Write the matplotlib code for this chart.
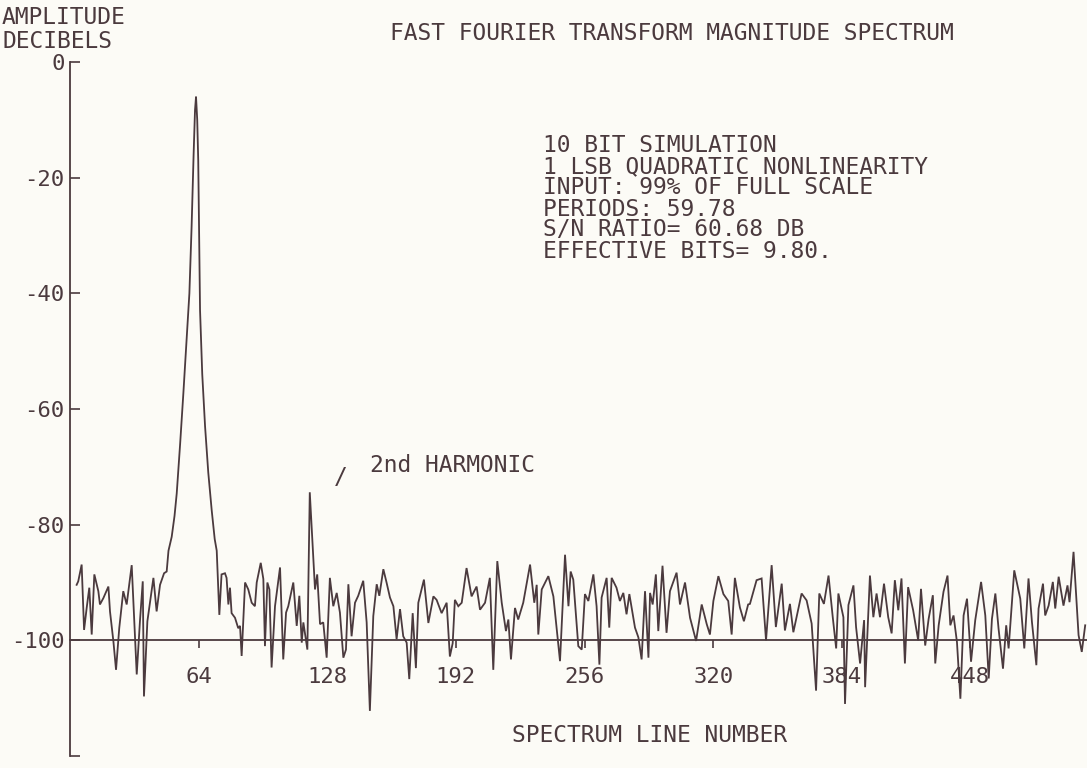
import matplotlib
matplotlib.use("Agg")
import matplotlib.pyplot as plt

# spectrum trace: (spectrum line, amplitude in dB)
spectrum_bin = [
    3.3, 4.1, 5.8, 7.0, 8.3, 9.6, 10.8, 12.1, 14.1, 14.9, 16.6, 19.1, 19.9, 21.6, 22.9,
    24.5, 26.5, 28.2, 30.7, 33.2, 34.8, 36.2, 36.8, 38.5, 41.5, 43.1, 44.8, 46.8, 48.1,
    49.0, 50.6, 52.0, 53.1, 54.8, 56.4, 58.0, 59.4, 60.5, 61.5, 62.2, 62.7, 63.3, 63.8,
    64.7, 65.8, 67.2, 68.8, 70.5, 72.0, 73.0, 74.3, 75.4, 77.1, 77.9, 78.8, 79.6, 80.4,
    82.1, 83.7, 84.6, 85.4, 87.1, 88.7, 90.4, 92.0, 92.9, 94.9, 96.2, 97.0, 98.2, 99.2,
    100.3, 102.0, 104.5, 106.1, 107.5, 108.6, 111.1, 112.8, 114.1, 115.3, 116.1, 118.1,
    119.3, 121.9, 123.0, 124.4, 126.0, 127.7, 129.3, 131.0, 132.7, 134.3, 136.0, 137.3,
    138.5, 140.1, 141.8, 143.4, 145.9, 147.6, 149.2, 150.9, 152.6, 153.9, 155.9, 157.5,
    159.2, 160.9, 162.5, 164.2, 165.8, 167.5, 168.8, 170.5, 172.1, 173.3, 176.1, 178.3,
    180.8, 182.4, 184.9, 187.4, 189.0, 190.4, 191.5, 193.2, 194.9, 197.3, 199.8, 202.3,
    204.0, 206.5, 208.9, 210.6, 212.6, 214.8, 216.9, 218.1, 219.4, 221.4, 223.0, 225.5,
    228.9, 231.0, 232.2, 233.0, 234.7, 238.0, 240.5, 243.8, 246.3, 248.0, 249.1, 250.4,
    252.9, 254.6, 256.2, 257.9, 260.4, 262.0, 263.4, 264.5, 267.0, 268.3, 269.5, 271.9,
    273.6, 275.3, 276.9, 278.3, 281.1, 282.8, 284.4, 286.1, 287.8, 288.6, 289.9, 291.5,
    292.7, 294.8, 296.8, 298.5, 301.8, 303.5, 306.0, 308.5, 311.5, 314.3, 316.8, 318.4,
    320.1, 322.6, 325.1, 327.5, 329.2, 330.8, 333.3, 335.3, 337.4, 338.3, 341.6, 344.1,
    346.3, 349.1, 351.2, 354.1, 355.7, 358.2, 359.9, 364.0, 366.5, 369.0, 371.2, 372.8,
    375.1, 377.4, 379.5, 381.2, 382.3, 384.8, 385.6, 387.3, 389.8, 391.1, 393.1, 395.1,
    395.6, 398.0, 399.7, 401.3, 403.0, 405.0, 407.1, 408.8, 410.4, 412.1, 413.7, 415.4,
    417.0, 419.5, 422.0, 423.4, 425.5, 427.2, 429.3, 430.5, 432.2, 434.6, 436.6, 438.0,
    439.6, 441.3, 443.0, 444.6, 446.3, 448.3, 450.4, 453.3, 455.4, 457.1, 458.7, 460.4,
    462.0, 464.2, 465.8, 467.0, 469.8, 472.8, 474.8, 476.9, 478.6, 480.8, 481.9, 484.1,
    485.2, 486.9, 489.0, 490.2, 491.9, 494.3, 496.3, 497.3, 499.3, 501.8, 503.4, 505.1,
]
spectrum_db = [
    -90.4, -89.8, -86.9, -98.2, -94.4, -90.9, -99.0, -88.6, -91.5, -93.8, -92.7, -90.7, -95.0, -100.2, -105.1,
    -97.9, -91.5, -93.8, -87.0, -105.9, -96.7, -89.8, -109.7, -96.7, -89.2, -95.0, -90.4, -88.4, -88.1,
    -84.5, -82.1, -78.5, -74.6, -66.0, -57.3, -48.0, -40.0, -28.5, -16.0, -8.3, -6.0, -10.0, -17.0,
    -42.9, -54.0, -63.0, -71.0, -77.5, -82.5, -84.5, -95.6, -88.6, -88.4, -89.2, -93.8, -90.9, -95.3,
    -96.1, -97.9, -97.5, -102.7, -90.0, -91.2, -93.5, -94.1, -90.0, -86.6, -89.4, -101.0, -90.0, -91.2,
    -104.7, -94.1, -87.4, -103.3, -95.2, -94.1, -90.0, -97.5, -92.3, -100.4, -96.9, -101.6,
    -74.4, -91.2, -88.6, -97.2, -96.9, -103.0, -89.2, -94.1, -91.8, -95.2, -103.0, -101.6,
    -90.3, -99.3, -93.5, -92.3, -89.7, -96.9, -112.2, -95.8, -90.3, -92.3, -87.7, -90.0,
    -92.6, -94.1, -99.8, -94.6, -99.3, -100.4, -106.7, -95.3, -104.8, -93.5, -89.5, -97.0,
    -92.4, -93.0, -95.3, -93.5, -102.8, -100.5, -93.0, -94.1, -93.5, -87.5, -92.4, -90.7,
    -94.7, -93.5, -89.2, -105.1, -86.3, -93.5, -98.4, -96.4, -103.3, -94.4, -96.4, -93.5,
    -86.9, -93.5, -90.4, -99.0, -91.2, -88.9, -92.4, -103.6, -85.2, -94.1, -88.1, -89.5,
    -101.0, -101.6, -92.0, -93.2, -88.6, -94.1, -104.2, -92.6, -89.2, -97.8, -89.2, -90.9,
    -93.2, -91.8, -95.5, -92.0, -97.8, -99.5, -103.3, -91.5, -103.0, -91.8, -93.8, -88.6,
    -98.4, -87.1, -98.7, -91.5, -88.3, -93.8, -90.0, -96.1, -100.1, -93.8, -97.2, -99.0,
    -93.2, -88.9, -92.0, -93.2, -99.0, -89.2, -94.3, -96.7, -93.8, -93.7, -89.6, -89.3,
    -100.0, -87.0, -97.7, -90.2, -98.3, -93.7, -98.6, -91.9, -93.1, -97.1, -108.7, -91.9,
    -93.7, -88.8, -96.0, -101.4, -91.9, -96.0, -111.0, -93.9, -90.5, -97.7, -104.0, -96.5,
    -108.1, -88.8, -96.0, -91.9, -96.0, -90.2, -96.0, -98.8, -89.6, -94.8, -89.3, -104.0,
    -90.8, -94.8, -100.0, -91.1, -100.9, -96.3, -92.2, -104.0, -97.4, -91.6, -88.8, -97.4,
    -95.7, -100.3, -110.1, -95.7, -92.8, -103.7, -96.5, -89.9, -95.7, -106.6, -96.3, -91.9,
    -98.0, -104.9, -97.4, -101.4, -87.9, -92.8, -101.4, -89.3, -96.8, -104.3, -94.5, -90.2,
    -95.7, -94.0, -89.9, -94.5, -89.0, -94.0, -90.5, -93.4, -84.7, -99.1, -102.0, -97.4,
]

x_ticks = [64, 128, 192, 256, 320, 384, 448]
x_tick_labels = ["64", "128", "192", "256", "320", "384", "448"]
y_ticks = [0, -20, -40, -60, -80, -100, -120]
y_tick_labels = ["0", "-20", "-40", "-60", "-80", "-100", ""]

info_lines = [
    "10 BIT SIMULATION",
    "1 LSB QUADRATIC NONLINEARITY",
    "INPUT: 99% OF FULL SCALE",
    "PERIODS: 59.78",
    "S/N RATIO= 60.68 DB",
    "EFFECTIVE BITS= 9.80.",
]

INK = "#4b3a3e"
PAPER = "#fcfbf6"
FS = 16.5

plt.rcParams["font.family"] = ["DejaVu Sans Mono", "DejaVu Sans"]
plt.rcParams["text.color"] = INK

W, H = 1087, 768
fig = plt.figure(figsize=(W / 100, H / 100), dpi=100, facecolor=PAPER)
ax = fig.add_axes([70 / W, 12 / H, 1017 / W, 694 / H])
ax.set_facecolor(PAPER)

ax.plot(spectrum_bin, spectrum_db, color=INK, lw=1.3, solid_joinstyle="miter")

ax.set_xlim(0, 506)
ax.set_ylim(-120, 0)

for side in ["top", "right"]:
    ax.spines[side].set_visible(False)
ax.spines["bottom"].set_position(("data", -100))
for side in ["left", "bottom"]:
    ax.spines[side].set_color(INK)
    ax.spines[side].set_linewidth(1.3)

ax.set_xticks(x_ticks)
ax.set_xticklabels(x_tick_labels)
ax.set_yticks(y_ticks)
ax.set_yticklabels(y_tick_labels)
ax.tick_params(axis="x", direction="out", length=6, width=1.2, color=INK,
               labelcolor=INK, labelsize=16, pad=13)
ax.tick_params(axis="y", direction="in", length=7, width=1.2, color=INK,
               labelcolor=INK, labelsize=16, pad=4)

def px_text(x, y, s, **kw):
    fig.text(x / W, 1 - y / H, s, **kw)

px_text(2, 18, "AMPLITUDE", fontsize=FS, ha="left", va="center")
px_text(2, 42, "DECIBELS", fontsize=FS, ha="left", va="center")
px_text(672, 33, "FAST FOURIER TRANSFORM MAGNITUDE SPECTRUM", fontsize=FS,
        ha="center", va="center")

for i, line in enumerate(info_lines):
    px_text(543, 146 + i * 21, line, fontsize=FS, ha="left", va="center")

px_text(341, 478, "/", fontsize=FS, ha="center", va="center")
px_text(370, 466, "2nd HARMONIC", fontsize=FS, ha="left", va="center")
px_text(650, 735, "SPECTRUM LINE NUMBER", fontsize=FS, ha="center", va="center")

fig.savefig("out.png", dpi=100, facecolor=PAPER)
